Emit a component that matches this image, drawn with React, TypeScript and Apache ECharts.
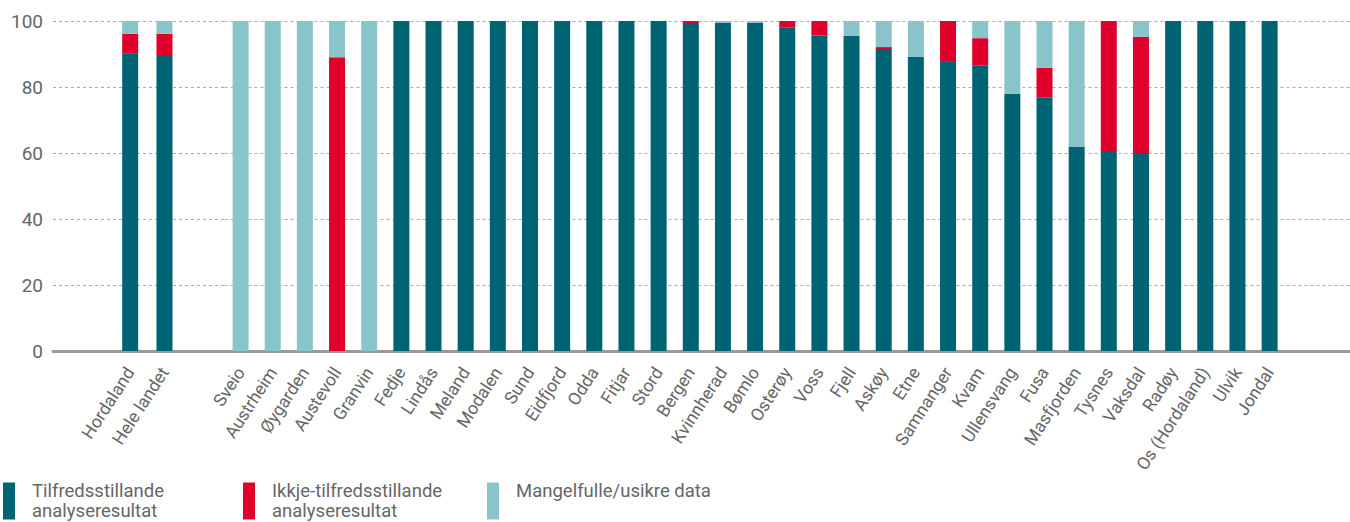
import React, { useEffect, useRef } from "react";
import * as echarts from "echarts";

// Reference areas (left group)
const refCategories = ["Hordaland", "Hele landet"];
const refOk = [90.2, 89.4];
const refNotOk = [5.9, 6.7];
const refMissing = [3.9, 3.9];

// Municipalities
const municipalities = [
  "Sveio", "Austrheim", "Øygarden", "Austevoll", "Granvin", "Fedje", "Lindås", "Meland",
  "Modalen", "Sund", "Eidfjord", "Odda", "Fitjar", "Stord", "Bergen", "Kvinnherad",
  "Bømlo", "Osterøy", "Voss", "Fjell", "Askøy", "Etne", "Samnanger", "Kvam",
  "Ullensvang", "Fusa", "Masfjorden", "Tysnes", "Vaksdal", "Radøy", "Os (Hordaland)", "Ulvik", "Jondal",
];
const munOk = [
  0, 0, 0, 0, 0, 100, 100, 100,
  100, 100, 100, 100, 100, 100, 99.4, 99.4,
  99.4, 98.1, 95.6, 95.5, 91.5, 89.1, 87.6, 86.6,
  77.9, 76.9, 61.8, 60.3, 59.7, 100, 100, 100, 100,
];
const munNotOk = [
  0, 0, 0, 89, 0, 0, 0, 0,
  0, 0, 0, 0, 0, 0, 0.6, 0,
  0, 1.9, 4.4, 0, 0.6, 0, 12.4, 8.2,
  0, 8.9, 0, 39.7, 35.5, 0, 0, 0, 0,
];
const munMissing = [
  100, 100, 100, 11, 100, 0, 0, 0,
  0, 0, 0, 0, 0, 0, 0, 0.6,
  0.6, 0, 0, 4.5, 7.9, 10.9, 0, 5.2,
  22.1, 14.2, 38.2, 0, 4.8, 0, 0, 0, 0,
];

const seriesNames = [
  "Tilfredsstillande analyseresultat",
  "Ikkje-tilfredsstillande analyseresultat",
  "Mangelfulle/usikre data",
];
const legendLabels = [
  "Tilfredsstillande\nanalyseresultat",
  "Ikkje-tilfredsstillande\nanalyseresultat",
  "Mangelfulle/usikre data\n ",
];
const colors = ["#006373", "#E0002B", "#8AC4CB"];

const yTicks = [0, 20, 40, 60, 80, 100];

// Left group laid out on half-width slots: slots 4 and 6 hold the two areas
const leftSlots = 10;
const leftSlotIndex = [4, 6];

export default function App() {
  const ref = useRef<HTMLDivElement>(null);

  useEffect(() => {
    if (!ref.current) return;
    const chart = echarts.init(ref.current, null, { renderer: "svg" });

    const catsA: string[] = Array(leftSlots).fill("");
    const padA = (vals: number[]) => {
      const arr: (number | string)[] = Array(leftSlots).fill("-");
      leftSlotIndex.forEach((s, i) => (arr[s] = vals[i]));
      return arr;
    };
    leftSlotIndex.forEach((s, i) => (catsA[s] = refCategories[i]));
    const catsB = [...municipalities, "", ""];

    const font = "Roboto, 'Noto Sans', sans-serif";
    const textColor = "#666";
    const bandB = 32.72;
    const gridTop = 21;
    const gridHeight = 330;

    const xAxisCommon = {
      type: "category" as const,
      axisLine: { lineStyle: { color: "#999", width: 3 } },
      axisTick: {
        alignWithLabel: true,
        length: 10,
        lineStyle: { color: "#8c8c8c", width: 2 },
        interval: (_i: number, v: string) => v !== "",
      },
      axisLabel: {
        interval: 0,
        rotate: 57,
        margin: 18,
        color: textColor,
        fontFamily: font,
        fontSize: 17.5,
      },
      splitLine: { show: false },
    };
    const yAxisCommon = {
      type: "value" as const,
      min: yTicks[0],
      max: yTicks[yTicks.length - 1],
      interval: 20,
      axisLine: { show: false },
      axisTick: { show: false },
      splitLine: { lineStyle: { color: "#aaa", type: [3, 3] as number[], width: 1 } },
    };

    const seriesFor = (grid: number, data: (number | string)[][]) =>
      seriesNames.map((name, k) => ({
        name,
        type: "bar" as const,
        xAxisIndex: grid,
        yAxisIndex: grid,
        stack: "s" + grid,
        barWidth: 16,
        itemStyle: { color: colors[k] },
        data: data[k],
      }));

    chart.setOption({
      animation: false,
      color: colors,
      grid: [
        { left: 53, top: gridTop, height: gridHeight, width: 171.5 },
        { left: 224.5, top: gridTop, height: gridHeight, width: bandB * catsB.length },
      ],
      xAxis: [
        { ...xAxisCommon, gridIndex: 0, data: catsA },
        { ...xAxisCommon, gridIndex: 1, data: catsB },
      ],
      yAxis: [
        {
          ...yAxisCommon,
          gridIndex: 0,
          axisLabel: { color: textColor, fontFamily: font, fontSize: 19, margin: 10 },
        },
        { ...yAxisCommon, gridIndex: 1, axisLabel: { show: false } },
      ],
      legend: seriesNames.map((name, k) => ({
        data: [name],
        left: [3, 243, 487][k],
        top: 481,
        padding: 0,
        icon: "rect",
        itemWidth: 12,
        itemHeight: 37,
        selectedMode: false,
        formatter: () => legendLabels[k],
        textStyle: {
          color: textColor,
          fontFamily: font,
          fontSize: 18.5,
          lineHeight: 20,
          padding: [0, 0, 0, 12],
        },
      })),
      series: [
        ...seriesFor(0, [padA(refOk), padA(refNotOk), padA(refMissing)]),
        ...seriesFor(1, [
          [...munOk, "-", "-"],
          [...munNotOk, "-", "-"],
          [...munMissing, "-", "-"],
        ]),
      ],
    });

    return () => chart.dispose();
  }, []);

  return (
    <div
      ref={ref}
      style={{ position: "absolute", left: 0, top: 0, width: 1350, height: 522, overflow: "hidden", background: "#fff" }}
    />
  );
}
